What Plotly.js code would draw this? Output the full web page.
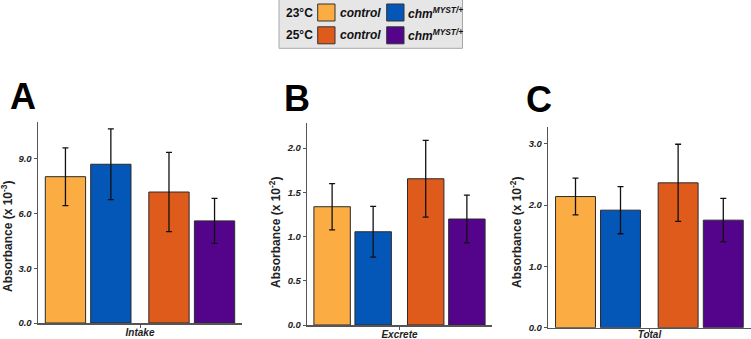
<!DOCTYPE html>
<html>
<head>
<meta charset="utf-8">
<script src="https://cdn.plot.ly/plotly-3.0.1.min.js"></script>
<style>html,body{margin:0;padding:0;background:#fff;}#chart{width:751px;height:339px;}</style>
</head>
<body>
<div id="chart"></div>
<script>
// ---- data ----
const categories = ["Intake", "Excrete", "Total"];
const groupNames = ["23°C control", "23°C chm<sup>MYST/+</sup>", "25°C control", "25°C chm<sup>MYST/+</sup>"];
const intakeMean  = [8.01, 8.69, 7.17, 5.59];
const intakeErr   = [1.58, 1.94, 2.17, 1.23];
const excreteMean = [1.337, 1.054, 1.653, 1.198];
const excreteErr  = [0.262, 0.286, 0.433, 0.270];
const totalMean   = [2.14, 1.918, 2.364, 1.755];
const totalErr    = [0.30, 0.385, 0.63, 0.355];
const exponents   = ["-3", "-2", "-2"];
const panelLetters = ["A", "B", "C"];
const legendTemps = ["23°C", "25°C"];
const legendLabels = ["control", "chm<sup>MYST/+</sup>"];

// ---- styles ----
const colors = ["#FBAD43", "#0457B7", "#DF5B1C", "#54048B"];
const offsets = [-0.557, -0.29, 0.052, 0.32];
const barWidth = 0.237;
const means = [intakeMean, excreteMean, totalMean];
const errs = [intakeErr, excreteErr, totalErr];
const axisIds = ["", "2", "3"];

const W = 751, H = 339;
const px = v => v / W;
const py = v => 1 - v / H;

const traces = [];
for (let p = 0; p < 3; p++) {
  for (let g = 0; g < 4; g++) {
    traces.push({
      type: "bar",
      name: groupNames[g],
      x: [categories[p]],
      y: [means[p][g]],
      offset: offsets[g],
      width: barWidth,
      xaxis: "x" + axisIds[p],
      yaxis: "y" + axisIds[p],
      marker: {color: colors[g], line: {color: "#2a2a2a", width: 1}},
      error_y: {type: "data", array: [errs[p][g]], visible: true, color: "#111", thickness: 1.3, width: 3},
      showlegend: false,
      hoverinfo: "skip"
    });
  }
}

const tickFont = {family: "Liberation Sans, Arial, sans-serif", size: 9.5, color: "#222", weight: "bold", style: "italic"};
function xax(dom, anchor, standoff) {
  return {domain: dom, anchor: anchor, range: [-0.6, 0.6], type: "category",
    showline: true, linecolor: "#555", linewidth: 1.5, ticks: "outside", ticklen: 3, tickcolor: "#555",
    ticklabelstandoff: standoff,
    tickfont: Object.assign({}, tickFont, {size: 10}), showgrid: false, zeroline: false, fixedrange: true};
}
function yax(dom, anchor, maxv, dt) {
  return {domain: dom, anchor: anchor, range: [0, maxv], dtick: dt, tick0: 0, tickformat: ".1f",
    showline: true, linecolor: "#555", linewidth: 1.5, ticks: "outside", ticklen: 3, tickcolor: "#555",
    tickfont: tickFont, showgrid: false, zeroline: false, fixedrange: true};
}

const annotations = [];
const titleX = [7, 275, 516];
const titleY = [236, 232, 232];
for (let p = 0; p < 3; p++) {
  annotations.push({xref: "paper", yref: "paper", x: px(titleX[p]), y: py(titleY[p]), textangle: -90,
    text: "Absorbance (x 10<sup>" + exponents[p] + "</sup>)", showarrow: false, xanchor: "center", yanchor: "middle",
    font: {family: "Liberation Sans, Arial, sans-serif", size: 12, color: "#222", weight: "bold"}});
}
const letterX = [23, 297, 539];
const letterY = [96, 98, 99];
for (let p = 0; p < 3; p++) {
  annotations.push({xref: "paper", yref: "paper", x: px(letterX[p]), y: py(letterY[p]), text: panelLetters[p],
    showarrow: false, xanchor: "center", yanchor: "middle",
    font: {family: "Liberation Sans, Arial, sans-serif", size: 36, color: "#000", weight: "bold"}});
}

// legend (drawn)
const shapes = [{type: "rect", xref: "paper", yref: "paper", x0: px(279), x1: px(462.5), y0: py(48.3), y1: py(-2),
  fillcolor: "#E6E6E6", line: {color: "#A8A8A8", width: 1}, layer: "below"}];
const rowY = [12.5, 35.3];
const swX = [317.7, 386.7];
const txtX = [337.5, 406];
for (let r = 0; r < 2; r++) {
  annotations.push({xref: "paper", yref: "paper", x: px(299), y: py(rowY[r]), text: legendTemps[r], showarrow: false,
    xanchor: "center", yanchor: "middle", font: {family: "Liberation Sans, Arial, sans-serif", size: 12, color: "#111", weight: "bold"}});
  for (let c = 0; c < 2; c++) {
    shapes.push({type: "rect", xref: "paper", yref: "paper", x0: px(swX[c]), x1: px(swX[c] + 17.3),
      y0: py(rowY[r] + 8.5), y1: py(rowY[r] - 8.5), fillcolor: colors[r * 2 + c], line: {color: "#333", width: 1}});
    annotations.push({xref: "paper", yref: "paper", x: px(txtX[c]), y: py(rowY[r]), text: legendLabels[c], showarrow: false,
      xanchor: "left", yanchor: "middle", font: {family: "Liberation Sans, Arial, sans-serif", size: 12, color: "#111", weight: "bold", style: "italic"}});
  }
}

const layout = {
  width: W, height: H, margin: {l: 0, r: 0, t: 0, b: 0},
  paper_bgcolor: "#fff", plot_bgcolor: "#fff", barmode: "overlay", showlegend: false,
  xaxis:  xax([px(38), px(242)], "y", -4),
  yaxis:  yax([1 - 323/H, 1 - 121.7/H], "x", 11.02, 3),
  xaxis2: xax([px(307.3), px(491.7)], "y2", -4),
  yaxis2: yax([1 - 325/H, 1 - 123.3/H], "x2", 2.28, 0.5),
  xaxis3: xax([px(548.3), px(750.5)], "y3", -6),
  yaxis3: yax([1 - 327.7/H, 1 - 126.7/H], "x3", 3.28, 1),
  annotations: annotations,
  shapes: shapes
};

Plotly.newPlot("chart", traces, layout, {displayModeBar: false, staticPlot: true});
</script>
</body>
</html>
